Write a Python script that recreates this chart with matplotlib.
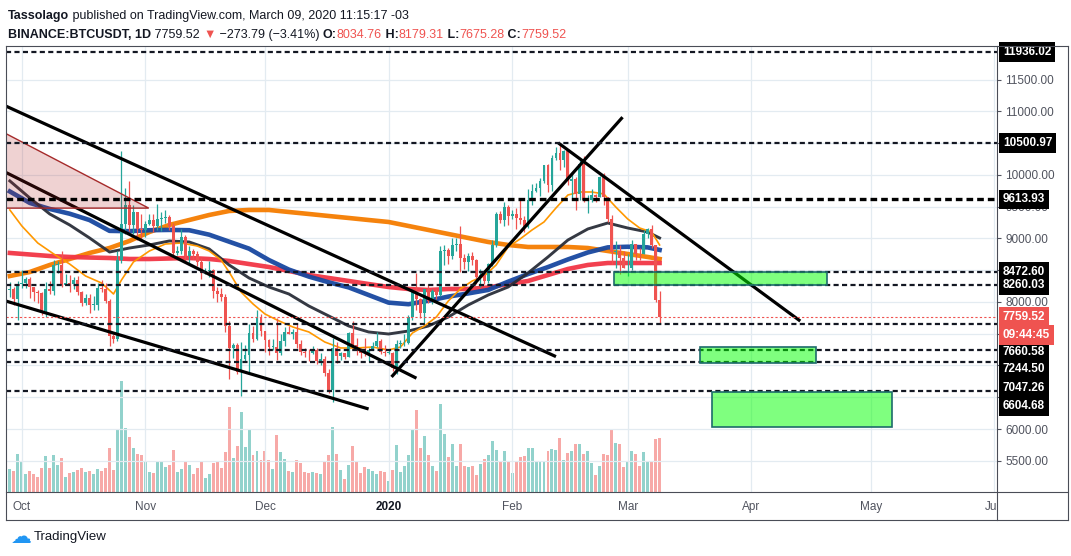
import matplotlib
matplotlib.use("Agg")
import matplotlib.pyplot as plt
import matplotlib.dates as mdates
from matplotlib.lines import Line2D
from matplotlib.patches import Polygon, Rectangle
from matplotlib.transforms import Bbox, TransformedBbox, blended_transform_factory
import pandas as pd

plt.rcParams['font.family'] = ['Liberation Sans', 'DejaVu Sans']

W, H = 1071, 556

# BINANCE:BTCUSDT daily candles, 2019-09-28 .. 2020-03-09
days = pd.date_range("2019-09-28", "2020-03-09", freq="D")

opens = [
    8190, 8205, 8050,
    8290, 8300, 8365, 8230, 8150, 8140, 7860, 8210, 8180, 8590, 8590, 8260, 8300, 8280, 8350, 8160,
    7990, 8070, 7950, 7950, 8225, 8200, 8020, 7470, 7410, 8655, 9230, 9530, 9205, 9410, 9150,
    9140, 9230, 9290, 9190, 9300, 9325, 9340, 9200, 8770, 8810, 9030, 8720, 8800, 8760, 8630,
    8460, 8490, 8500, 8170, 8120, 8080, 7620, 7280, 7330, 6900, 7110, 7160, 7510, 7420, 7760,
    7540, 7400, 7290, 7290, 7190, 7390, 7530, 7500, 7530, 7340, 7220, 7200, 7190, 7250, 7070,
    7110, 6880, 6620, 7280, 7150, 7190, 7140, 7510, 7320, 7250, 7200, 7190, 7250, 7300, 7390, 7220,
    7200, 7200, 6960, 7340, 7350, 7350, 7760, 8150, 8050, 7820, 8200, 8020, 8180, 8110, 8810,
    8820, 8720, 8900, 8910, 8700, 8630, 8730, 8660, 8390, 8430, 8330, 8600, 8900, 9390, 9290, 9500,
    9350, 9380, 9330, 9290, 9180, 9610, 9750, 9800, 9900, 10150, 9850, 10270, 10350, 10240, 10370,
    9900, 9930, 9700, 10180, 9600, 9610, 9690, 9660, 9970, 9650, 9310, 8790, 8810, 8700,
    8530, 8530, 8910, 8760, 8750, 9070, 9150, 8900, 8034.76,
]
highs = [
    8320, 8230, 8330,
    8500, 8390, 8390, 8230, 8190, 8160, 8320, 8330, 8660, 8650, 8810, 8440, 8420, 8400, 8410, 8170,
    8130, 8120, 8100, 8300, 8340, 8300, 8040, 7500, 8800, 10370, 9800, 9900, 9530, 9420, 9390,
    9270, 9380, 9380, 9550, 9420, 9450, 9370, 9240, 8880, 9150, 9060, 8880, 8830, 8800, 8690,
    8530, 8650, 8520, 8230, 8220, 8130, 7700, 7350, 7350, 7370, 7330, 7650, 7620, 7870, 7810,
    7550, 7410, 7420, 7750, 7490, 7600, 7620, 7580, 7650, 7400, 7270, 7260, 7300, 7270, 7190,
    7150, 6940, 7440, 7370, 7220, 7190, 7520, 7700, 7440, 7270, 7440, 7270, 7370, 7520, 7410, 7320,
    7250, 7210, 7400, 7400, 7500, 7800, 8210, 8460, 8060, 8200, 8290, 8200, 8200, 8880, 8900,
    8850, 9010, 9000, 9200, 8750, 8770, 8790, 8670, 8520, 8440, 8620, 8970, 9420, 9430, 9580, 9530,
    9450, 9480, 9600, 9350, 9780, 9860, 9880, 9950, 10160, 10170, 10320, 10440, 10500, 10390, 10380,
    10050, 9970, 10250, 10300, 9680, 9780, 9700, 9990, 10030, 9660, 9370, 8960, 8900, 8800,
    8750, 8970, 8920, 8850, 9140, 9170, 9220, 8900, 8179.31,
]
lows = [
    8080, 7960, 7710,
    8220, 8220, 8060, 8010, 7990, 7790, 7770, 8120, 8110, 8460, 8230, 8260, 8150, 8210, 8110, 7930,
    7950, 7830, 7870, 7880, 8160, 7990, 7300, 7360, 7380, 8620, 9070, 9120, 9070, 8970, 8970,
    9030, 9210, 9100, 9130, 9120, 9250, 9130, 8670, 8740, 8760, 8610, 8610, 8680, 8570, 8360,
    8440, 8400, 8060, 8000, 8020, 7530, 6790, 7120, 6860, 6520, 7060, 6860, 7370, 7400, 7460,
    7220, 7160, 7240, 7080, 7160, 7310, 7490, 7420, 7270, 7160, 7130, 7070, 7180, 7020, 7010,
    6830, 6560, 6430, 7040, 7080, 7100, 7130, 7270, 7160, 7120, 7150, 7060, 7250, 7290, 7180, 7150,
    7180, 6920, 6870, 7270, 7310, 7340, 7720, 7870, 7750, 7670, 7990, 7970, 8040, 8100, 8580,
    8600, 8680, 8810, 8470, 8520, 8490, 8580, 8290, 8230, 8280, 8300, 8560, 8860, 9250, 9200, 9220,
    9300, 9150, 9230, 9100, 9170, 9530, 9730, 9670, 9880, 9730, 9740, 10240, 10080, 10130, 9850,
    9610, 9450, 9600, 9580, 9400, 9570, 9580, 9650, 9520, 9260, 8600, 8530, 8440, 8530,
    8410, 8500, 8660, 8660, 8750, 9010, 8850, 8000, 7675.28,
]
closes = [
    8205, 8050, 8290,
    8300, 8365, 8230, 8150, 8140, 7860, 8210, 8180, 8590, 8590, 8260, 8300, 8280, 8350, 8160,
    7990, 8070, 7950, 7950, 8225, 8200, 8020, 7470, 7410, 8655, 9230, 9530, 9205, 9410, 9150, 9140,
    9230, 9290, 9190, 9300, 9325, 9340, 9200, 8770, 8810, 9030, 8720, 8800, 8760, 8630, 8460,
    8490, 8500, 8170, 8120, 8080, 7620, 7280, 7330, 6900, 7110, 7160, 7510, 7420, 7760, 7540,
    7400, 7290, 7290, 7190, 7390, 7530, 7500, 7530, 7340, 7220, 7200, 7190, 7250, 7070, 7110,
    6880, 6620, 7280, 7150, 7190, 7140, 7510, 7320, 7250, 7200, 7190, 7250, 7300, 7390, 7220, 7200,
    7200, 6960, 7340, 7350, 7350, 7760, 8150, 8050, 7820, 8200, 8020, 8180, 8110, 8810, 8820,
    8720, 8900, 8910, 8700, 8630, 8730, 8660, 8390, 8430, 8330, 8600, 8900, 9390, 9290, 9500, 9350,
    9380, 9330, 9290, 9180, 9610, 9750, 9800, 9900, 10150, 9850, 10270, 10350, 10240, 10370, 9900,
    9930, 9700, 10180, 9600, 9610, 9690, 9660, 9970, 9650, 9310, 8790, 8810, 8700, 8530,
    8530, 8910, 8760, 8750, 9070, 9150, 8900, 8034.76, 7759.52,
]
volume_k = [
    23, 21, 38,
    30, 18, 21, 18, 15, 24, 36, 24, 37, 27, 34, 15, 19, 20, 22, 24,
    20, 21, 18, 23, 21, 24, 44, 22, 62, 111, 64, 55, 44, 38, 37,
    30, 20, 19, 31, 31, 25, 27, 42, 20, 23, 31, 27, 18, 24, 31,
    14, 18, 29, 30, 24, 40, 85, 34, 46, 80, 45, 63, 37, 41, 32,
    41, 32, 23, 57, 40, 33, 21, 20, 32, 29, 20, 19, 20, 19, 18,
    30, 37, 65, 38, 22, 13, 27, 46, 30, 19, 25, 23, 21, 18, 21, 20,
    11, 22, 47, 20, 26, 37, 62, 82, 44, 56, 37, 26, 21, 88, 58,
    35, 48, 26, 48, 26, 25, 26, 17, 28, 33, 37, 51, 42, 31, 41, 31,
    19, 31, 35, 36, 44, 44, 30, 30, 30, 41, 43, 42, 54, 32, 39,
    41, 48, 48, 38, 41, 29, 17, 26, 38, 37, 63, 49, 48, 25,
    30, 41, 38, 26, 40, 30, 31, 53, 54,
]

# moving averages
ma_dates = ["2019-09-28", "2019-10-03", "2019-10-08", "2019-10-13", "2019-10-18", "2019-10-23",
            "2019-10-28", "2019-11-02", "2019-11-07", "2019-11-12", "2019-11-17", "2019-11-22",
            "2019-11-27", "2019-12-02", "2019-12-07", "2019-12-12", "2019-12-17", "2019-12-22",
            "2019-12-27", "2020-01-01", "2020-01-06", "2020-01-11", "2020-01-16", "2020-01-21",
            "2020-01-26", "2020-01-31", "2020-02-05", "2020-02-10", "2020-02-15", "2020-02-20",
            "2020-02-25", "2020-03-01", "2020-03-06", "2020-03-09"]
ma_orange_slow = [8409, 8472, 8583, 8677, 8772, 8850, 8961, 9102, 9213, 9291, 9370, 9433,
                  9449, 9449, 9417, 9386, 9354, 9323, 9291, 9260, 9197, 9134, 9071, 9008,
                  8945, 8898, 8866, 8866, 8866, 8850, 8803, 8756, 8709, 8677]
ma_grey = [9906, 9638, 9386, 9213, 9008, 8787, 8850, 8898, 8961, 8945, 8835, 8583,
           8378, 8236, 8126, 7937, 7780, 7622, 7528, 7496, 7543, 7622, 7764, 7953,
           8110, 8236, 8457, 8709, 8976, 9150, 9244, 9165, 9102, 9008]
ma_blue = [9740, 9560, 9465, 9390, 9290, 9120, 9115, 9130, 9135, 9130, 9060, 8950,
           8840, 8660, 8510, 8400, 8310, 8230, 8110, 7990, 7965, 8020, 8085, 8135,
           8190, 8320, 8440, 8550, 8670, 8780, 8860, 8870, 8860, 8820]
ma_red = [8772, 8748, 8724, 8709, 8700, 8693, 8677, 8677, 8685, 8693, 8677, 8646,
          8598, 8551, 8488, 8425, 8378, 8331, 8283, 8236, 8205, 8189, 8205, 8205,
          8228, 8283, 8331, 8425, 8520, 8583, 8614, 8614, 8614, 8614]

fast_dates = ["2019-09-28", "2019-10-01", "2019-10-05", "2019-10-09", "2019-10-13", "2019-10-17",
              "2019-10-21", "2019-10-24", "2019-10-26", "2019-10-29", "2019-11-02", "2019-11-06",
              "2019-11-10", "2019-11-14", "2019-11-17", "2019-11-20", "2019-11-22", "2019-11-25",
              "2019-11-28", "2019-12-01", "2019-12-04", "2019-12-08", "2019-12-12", "2019-12-16",
              "2019-12-20", "2019-12-24", "2019-12-28", "2020-01-01", "2020-01-04", "2020-01-07",
              "2020-01-10", "2020-01-13", "2020-01-16", "2020-01-19", "2020-01-22", "2020-01-25",
              "2020-01-28", "2020-01-31", "2020-02-03", "2020-02-06", "2020-02-09", "2020-02-12",
              "2020-02-15", "2020-02-18", "2020-02-21", "2020-02-24", "2020-02-27", "2020-03-01",
              "2020-03-04", "2020-03-07", "2020-03-09"]
ma_fast = [9449, 9197, 8929, 8756, 8598, 8409, 8299, 8126, 8346, 8630, 8803, 8913,
           8929, 8882, 8803, 8661, 8472, 8157, 7969, 7811, 7717, 7606, 7528, 7370,
           7276, 7276, 7291, 7244, 7291, 7512, 7622, 7764, 8016, 8205, 8331, 8409,
           8583, 8866, 8992, 9134, 9260, 9480, 9685, 9732, 9732, 9701, 9496, 9307,
           9165, 9102, 8898]

# horizontal levels drawn by the author
levels = [11936.02, 10500.97, 9613.93, 8472.60, 8260.03, 7660.58, 7244.50, 7047.26, 6604.68]
last_price = 7759.52
countdown = "09:44:45"

# trend lines: (start date, start price, end date, end price)
trend_lines = [
    ("2019-09-27 00:00", 11085, "2020-02-12 00:00", 7140),
    ("2019-09-27 00:00", 10040, "2020-01-08 00:00", 6800),
    ("2019-09-27 00:00", 8015, "2019-12-27 00:00", 6315),
    ("2020-01-01 18:00", 6820, "2020-02-28 17:00", 10910),
    ("2020-02-12 14:00", 10505, "2020-04-13 07:00", 7700),
]
# green zones: (start, end, low, high)
zones = [
    ("2020-02-26 12:00", "2020-04-20 00:00", 8260.03, 8472.60),
    ("2020-03-19 06:00", "2020-04-17 06:00", 7045, 7295),
    ("2020-03-22 06:00", "2020-05-06 06:00", 6025, 6590),
]
triangle_dates = ["2019-09-24", "2019-11-01 20:00", "2019-09-24"]
triangle_prices = [10750, 9478, 9478]

price_ticks = list(range(5500, 12000, 500))
# tick labels that stay visible next to the level boxes
shown_price_labels = [5500, 6000, 8000, 9000, 9500, 10000, 11000, 11500]

month_ticks = ["2019-10-01", "2019-11-01", "2019-12-01", "2020-01-01", "2020-02-01",
               "2020-03-01", "2020-04-01", "2020-05-01", "2020-06-01"]
month_labels = ["Oct", "Nov", "Dec", "2020", "Feb", "Mar", "Apr", "May", "Jun"]


def dn(s):
    return mdates.date2num(pd.Timestamp(s))


UP, DOWN = "#26a69a", "#ef5350"
TXT = "#131722"
AXTXT = "#50535e"

fig = plt.figure(figsize=(W / 100, H / 100), dpi=100)
fig.patch.set_facecolor("white")

left, right, top, bottom = 6, 997, 46, 492
ax = fig.add_axes([left / W, 1 - bottom / H, (right - left) / W, (bottom - top) / H])
vol_ax = ax.twinx()
ax.set_zorder(vol_ax.get_zorder() + 1)
ax.patch.set_visible(False)

x = mdates.date2num(days)
ax.set_xlim(dn("2019-09-27 00:45"), dn("2020-06-01 15:30"))
ax.set_ylim(5008, 12031)

# volume
vol_colors = ["#92d2cc" if c >= o else "#f7a9a7" for o, c in zip(opens, closes)]
vol_ax.bar(x, volume_k, width=0.74, color=vol_colors, linewidth=0)
vol_ax.set_ylim(0, max(volume_k) * 4.02)
vol_ax.set_yticks([])
for s in vol_ax.spines.values():
    s.set_visible(False)

# grid
for m in month_ticks:
    ax.axvline(dn(m), color="#e3ebf1", lw=0.9, zorder=0)
for p in price_ticks:
    ax.axhline(p, color="#e3ebf1", lw=0.9, zorder=0)

# moving averages
ma_x = mdates.date2num(pd.to_datetime(ma_dates))
ax.plot(ma_x, ma_orange_slow, color="#f57c00", lw=3.3, alpha=0.95, zorder=2)
ax.plot(ma_x, ma_red, color="#f23645", lw=3.3, alpha=0.95, zorder=2)
ax.plot(ma_x, ma_blue, color="#1848a0", lw=3.3, alpha=0.95, zorder=2)
ax.plot(ma_x, ma_grey, color="#2a2e39", lw=2.1, alpha=0.95, zorder=2)
ax.plot(mdates.date2num(pd.to_datetime(fast_dates)), ma_fast, color="#ff9800", lw=1.2, zorder=2)

# candles
colors = [UP if c >= o else DOWN for o, c in zip(opens, closes)]
ax.vlines(x, lows, highs, colors=colors, lw=0.9, zorder=3)
body_low = [min(o, c) for o, c in zip(opens, closes)]
body_h = [max(abs(c - o), 12) for o, c in zip(opens, closes)]
ax.bar(x, body_h, bottom=body_low, width=0.72, color=colors, linewidth=0, zorder=3.1)

# trend lines
for d0, p0, d1, p1 in trend_lines:
    ax.plot([dn(d0), dn(d1)], [p0, p1], color="black", lw=2.3, solid_capstyle="butt", zorder=4)

# pink triangle
tri = Polygon(list(zip([dn(d) for d in triangle_dates], triangle_prices)), closed=True,
              facecolor=(0.70, 0.13, 0.13, 0.2), edgecolor="#a52a2a", lw=1.0, zorder=4.5)
ax.add_patch(tri)

# horizontal levels
for lv in levels:
    if lv == 9613.93:
        ax.axhline(lv, color="black", lw=2.4, ls=(0, (2.0, 1.2)), zorder=5)
    else:
        ax.axhline(lv, color=TXT, lw=1.6, ls=(0, (2.3, 1.5)), zorder=5)
ax.axhline(last_price, color=DOWN, lw=0.8, ls=(0, (2, 2)), zorder=5)

# green zones
for d0, d1, lo, hi in zones:
    ax.add_patch(Rectangle((dn(d0), lo), dn(d1) - dn(d0), hi - lo, facecolor=(0, 1, 0, 0.5),
                           edgecolor="#1d6b6b", lw=1.2, zorder=6))

# price axis on the right
for s in ax.spines.values():
    s.set_visible(False)
ax.yaxis.tick_right()
ax.set_yticks(price_ticks)
ax.set_yticklabels([f"{p:.2f}" if p in shown_price_labels else "" for p in price_ticks])
ax.tick_params(axis="y", length=3, width=0.8, color=AXTXT, labelcolor=AXTXT, labelsize=8.5, pad=3)
ax.set_xticks([])

box_kw = dict(ha="left", va="center", fontsize=8.5, fontweight="bold", color="white",
              annotation_clip=False, textcoords="offset points")
label_shift_px = [0, 0, 0, 0, 0, 28.5, 19, 25.5, 15.5]
for lv, sh in zip(levels, label_shift_px):
    ax.annotate(f"{lv:.2f}", xy=(1, lv), xycoords=("axes fraction", "data"),
                xytext=(4.3, -sh * 0.72), zorder=10,
                bbox=dict(boxstyle="square,pad=0.33", fc="black", ec="none"), **box_kw)
ax.annotate(f"{last_price:.2f}", xy=(1, last_price), xycoords=("axes fraction", "data"),
            xytext=(4.3, 0), zorder=11,
            bbox=dict(boxstyle="square,pad=0.33", fc=DOWN, ec="none"), **box_kw)
ax.annotate(countdown, xy=(1, last_price), xycoords=("axes fraction", "data"),
            xytext=(4.3, -18 * 0.72), zorder=11,
            bbox=dict(boxstyle="square,pad=0.33", fc=DOWN, ec="none"), **box_kw)

# time axis labels (Jun is cut by the price scale)
tx = blended_transform_factory(ax.transData, fig.transFigure)
clip = TransformedBbox(Bbox([[left / W, 0], [right / W, 1]]), fig.transFigure)
for m, lab in zip(month_ticks, month_labels):
    t = fig.text(dn(m), 1 - 507 / H, lab, transform=tx, ha="center", va="center", fontsize=8.5,
                 color=AXTXT if lab != "2020" else TXT, fontweight="bold" if lab == "2020" else "normal")
    t.set_clip_box(clip)
    t.set_clip_on(True)


# frame
def hline(y, x0, x1):
    fig.add_artist(Line2D([x0 / W, x1 / W], [1 - y / H, 1 - y / H], color="#4a4d57", lw=0.8))


def vline(xp, y0, y1):
    fig.add_artist(Line2D([xp / W, xp / W], [1 - y0 / H, 1 - y1 / H], color="#4a4d57", lw=0.8))


hline(46, 6, 1068)
hline(492, 6, 1068)
hline(520, 6, 1068)
vline(6, 46, 520)
vline(997, 46, 520)
vline(1068, 46, 520)


# header
def header(parts, y_px):
    prev = None
    for text, weight, color in parts:
        if prev is None:
            prev = ax.annotate(text, xy=(8, H - y_px), xycoords="figure pixels", ha="left", va="bottom",
                               fontsize=9, fontweight=weight, color=color, annotation_clip=False)
        else:
            prev = ax.annotate(text, xy=(1, 0), xycoords=prev, ha="left", va="bottom",
                               fontsize=9, fontweight=weight, color=color, annotation_clip=False)


header([("Tassolago", "bold", TXT),
        (" published on TradingView.com, March 09, 2020 11:15:17 -03", "normal", TXT)], 22)
header([("BINANCE:BTCUSDT, 1D", "bold", TXT),
        (" 7759.52 ", "normal", TXT),
        ("\u25bc", "normal", DOWN),
        (" \u2212273.79 (\u22123.41%) ", "normal", TXT),
        ("O:", "bold", TXT), ("8034.76", "normal", DOWN),
        (" H:", "bold", TXT), ("8179.31", "normal", DOWN),
        (" L:", "bold", TXT), ("7675.28", "normal", DOWN),
        (" C:", "bold", TXT), ("7759.52", "normal", DOWN)], 41)

# TradingView mark
fig.text(11 / W, 1 - 537 / H, "\u2601", color="#2196f3", fontsize=15, family="DejaVu Sans",
         ha="left", va="center")
fig.text(34 / W, 1 - 537 / H, "TradingView", color=TXT, fontsize=9.5, ha="left", va="center")

fig.savefig("out.png", dpi=100)
